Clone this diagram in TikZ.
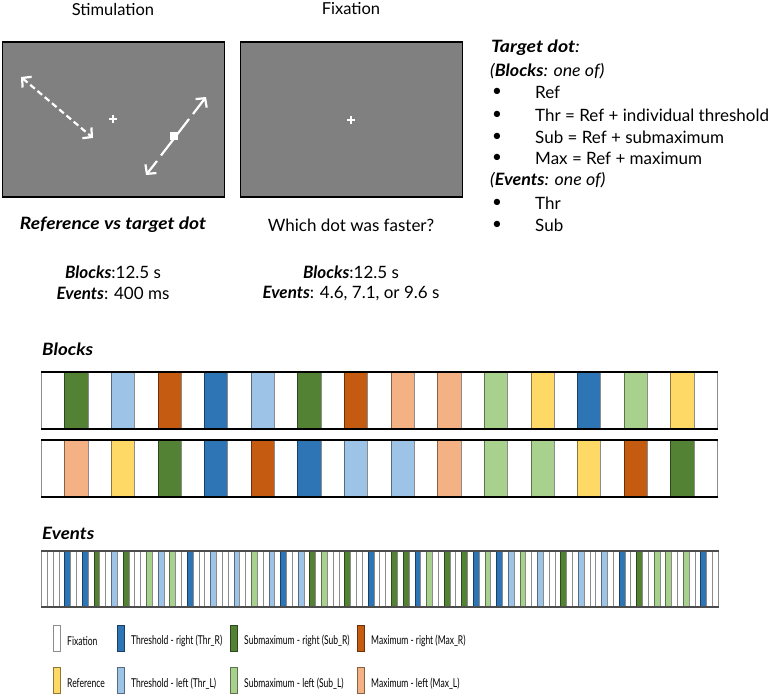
\documentclass[tikz,border=0pt]{standalone}
\usepackage{fontspec}
\setmainfont{Lato}
\newfontfamily\legfont[FakeStretch=0.7]{Lato}
\usetikzlibrary{arrows.meta}
\definecolor{colW}{HTML}{FFFFFF}
\definecolor{colY}{HTML}{FFD966}
\definecolor{colTR}{HTML}{2E75B6}
\definecolor{colTL}{HTML}{9DC3E6}
\definecolor{colSR}{HTML}{548235}
\definecolor{colSL}{HTML}{A9D18E}
\definecolor{colMR}{HTML}{C55A11}
\definecolor{colML}{HTML}{F4B183}
\definecolor{panelgray}{HTML}{808080}
\begin{document}
\begin{tikzpicture}[x=1pt,y=-1pt,
  panel/.style={draw=black,line width=1.6pt,fill=panelgray,minimum width=222pt,minimum height=155pt,inner sep=0pt},
  cross/.style={white,line width=1.2pt},
  wline/.style={white,line width=2.2pt},
  barb/.style={-{Straight Barb[length=6.5pt,width=14pt]}},
  maintext/.style={font=\fontsize{16.5}{19}\selectfont,inner sep=0pt},
  captext/.style={font=\fontsize{17}{19}\selectfont,inner sep=0pt},
  listtext/.style={font=\fontsize{17}{19}\selectfont,inner sep=0pt,anchor=west},
  headtext/.style={font=\fontsize{17}{19}\selectfont\bfseries\itshape,inner sep=0pt,anchor=west},
  blk/.style={line width=1pt,inner sep=0pt,minimum width=23.31pt,minimum height=56pt,anchor=north west},
  evt/.style={line width=0.9pt,inner sep=0pt,minimum width=5.836pt,minimum height=55pt,anchor=north west},
  legbox/.style={line width=1pt,inner sep=0pt,minimum width=7pt,minimum height=26pt},
  legtext/.style={font=\legfont\fontsize{12.2}{14}\selectfont,inner sep=0pt,anchor=west}
]
\useasboundingbox (0,0) rectangle (775,695);

% titles
\node[maintext] (tstim) at (113,9) {Stimulation};
\node[maintext] (tfix) at (351,9) {Fixation};

% panels
\node[panel] (stim) at (113.5,119.5) {};
\node[panel] (fix) at (351.5,119.5) {};

% crosses
\draw[cross] (113,115) -- (113,123) (109,119) -- (117,119);
\draw[cross] (351,116) -- (351,124) (347,120) -- (355,120);

% dashed reference arrow
\draw[wline,dash pattern=on 6pt off 3.5pt,{Straight Barb[length=6.5pt,width=14pt]}-{Straight Barb[length=6.5pt,width=14pt]}] (21,77) -- (93,138);

% target arrow
\coordinate (ta1) at (157,161);
\coordinate (ta2) at (146,175);
\coordinate (tb1) at (161,155.5);
\coordinate (tb2) at (189,119);
\coordinate (tc1) at (193,114);
\coordinate (tc2) at (206,97);
\draw[wline,barb] (ta1) -- (ta2);
\draw[wline] (tb1) -- (tb2);
\draw[wline,barb] (tc1) -- (tc2);
\node[fill=white,minimum size=8pt,inner sep=0pt] (tdot) at (174,136) {};

% captions
\node[captext,font=\fontsize{17}{19}\selectfont\bfseries\itshape] (c1) at (113,225) {\scalebox{1.13}[1]{Reference vs target dot}};
\node[captext] (c2) at (351,225) {Which dot was faster?};
\node[captext] (c3) at (113,272) {\textbf{\textit{Blocks}}:12.5 s};
\node[captext] (c4) at (113,293) {\textbf{\textit{Events}}: 400 ms};
\node[captext] (c5) at (351,272) {\textbf{\textit{Blocks}}:12.5 s};
\node[captext] (c6) at (351,293) {\textbf{\textit{Events}}: 4.6, 7.1, or 9.6 s};

% right list
\node[listtext] (l0) at (491,48) {\scalebox{1.15}[1]{\textbf{\textit{Target dot}}\textit{:}}};
\node[listtext] (l1) at (490,71) {\scalebox{1.05}[1]{\textit{(\textbf{Blocks}: one of)}}};
\foreach \y/\t [count=\k] in {92/Ref,115/{Thr = Ref + individual threshold},137/{Sub = Ref + submaximum},158/{Max = Ref + maximum}}{
  \node[listtext] (b\k) at (492,\y) {•};
  \node[listtext] (i\k) at (535,\y) {\t};
}
\node[listtext] (l2) at (490,180) {\scalebox{1.05}[1]{\textit{(\textbf{Events}: one of)}}};
\foreach \y/\t [count=\k from 5] in {203/Thr,225/Sub}{
  \node[listtext] (b\k) at (492,\y) {•};
  \node[listtext] (i\k) at (535,\y) {\t};
}

% Blocks
\node[headtext] (hblocks) at (42,349) {\scalebox{1.1}[1]{Blocks}};
\foreach \c [count=\i from 0] in {W,SR,W,TL,W,MR,W,TR,W,TL,W,SR,W,MR,W,ML,W,ML,W,SL,W,Y,W,TR,W,SL,W,Y,W}{
  \node[blk,fill=col\c,draw=col\c!55!black] (ra\i) at ({41+23.31*\i},372) {};
}
\foreach \c [count=\i from 0] in {W,ML,W,Y,W,SR,W,TR,W,MR,W,TR,W,TL,W,TL,W,ML,W,SL,W,SL,W,Y,W,MR,W,SR,W}{
  \node[blk,fill=col\c,draw=col\c!55!black] (rb\i) at ({41+23.31*\i},440) {};
}
\draw[line width=1.5pt] (ra0.north west) -- (ra28.north east);
\draw[line width=1.5pt] (ra0.south west) -- (ra28.south east);
\draw[line width=1.5pt] (rb0.north west) -- (rb28.north east);
\draw[line width=1.5pt] (rb0.south west) -- (rb28.south east);

% Events
\node[headtext] (hevents) at (42,533) {\scalebox{1.1}[1]{Events}};
\foreach \i/\c in {4/TR,7/TR,9/SR,12/TL,14/SR,18/SL,20/TL,22/SL,25/TR,29/TL,33/TL,36/SL,39/TL,41/TR,44/TL,46/SR,48/SL,52/SR,56/TR,60/SR,62/SR,64/TR,66/SL,69/SR,72/SR,74/TR,76/SL,78/TR,80/TL,82/SL,85/TL,89/SR,92/TL,96/TL,99/TR,102/SR,105/SL,107/SL,110/SL,113/TR}{
  \expandafter\xdef\csname evc\i\endcsname{\c}
}
\foreach \i in {0,...,115}{
  \ifcsname evc\i\endcsname \edef\cc{\csname evc\i\endcsname}\else \def\cc{W}\fi
  \node[evt,fill=col\cc,draw=col\cc!55!black] (ev\i) at ({41+5.836*\i},551) {};
}
\draw[line width=1.2pt,black!70] (ev0.north west) -- (ev115.north east);
\draw[line width=1.2pt,black!70] (ev0.south west) -- (ev115.south east);

% Legend
\foreach \c/\x/\y/\t [count=\k] in {W/56.5/638/Fixation,TR/120.5/638/{Threshold - right (Thr\_R)},SR/233.5/638/{Submaximum - right (Sub\_R)},MR/360.5/638/{Maximum - right (Max\_R)},
  Y/56.5/680.5/Reference,TL/120.5/680.5/{Threshold - left (Thr\_L)},SL/233.5/680.5/{Submaximum - left (Sub\_L)},ML/360.5/680.5/{Maximum - left (Max\_L)}}{
  \node[legbox,fill=col\c,draw=col\c!55!black] (lb\k) at (\x,\y) {};
  \node[legtext] (lt\k) at ([xshift=10.5pt,yshift=-3pt]lb\k.center) {\t};
}
\end{tikzpicture}
\end{document}
